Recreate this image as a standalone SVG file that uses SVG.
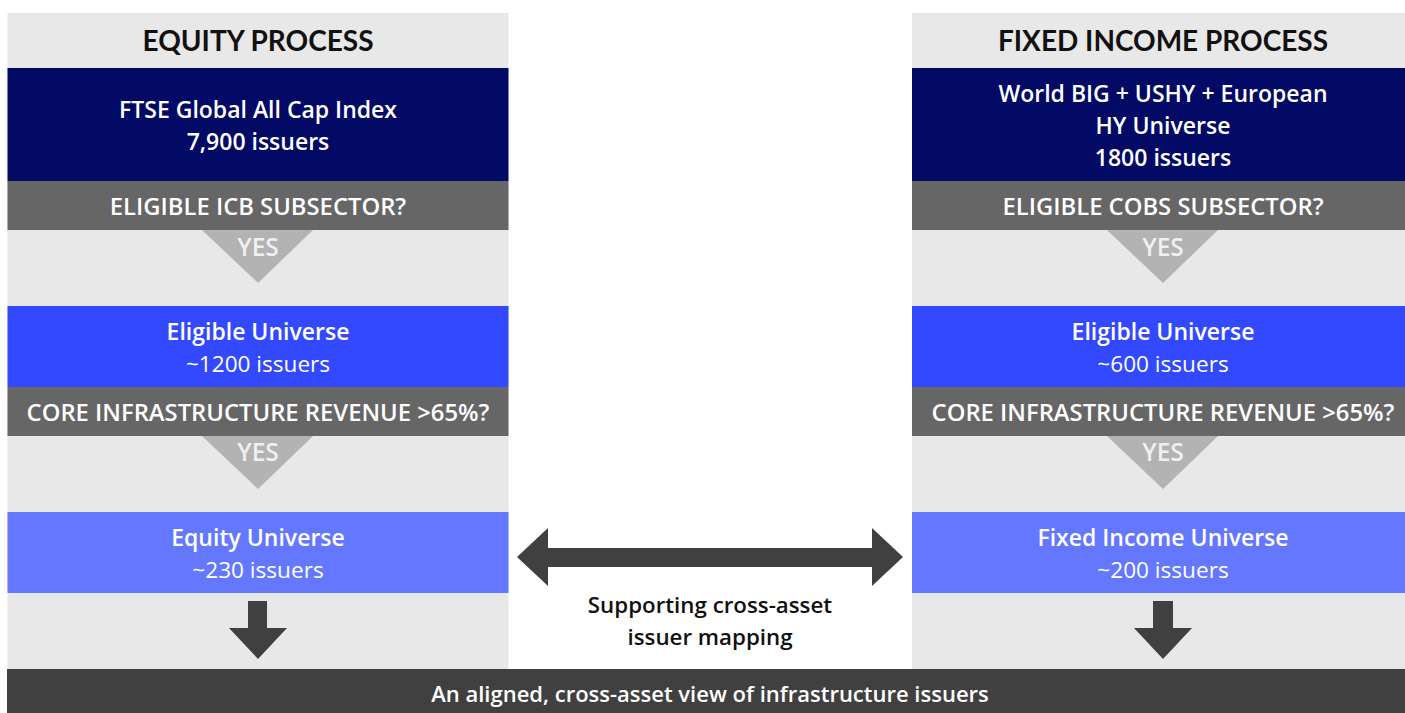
<svg xmlns="http://www.w3.org/2000/svg" width="1405" height="713" viewBox="0 0 1405 713">
<style>
.panel{fill:#e8e8e8}
.navy{fill:#020a66}
.blue{fill:#3349ff}
.lblue{fill:#6477ff}
.band{fill:#666666}
.title{font-family:Lato,"Liberation Sans",sans-serif;font-weight:700;font-size:28px;fill:#111;text-anchor:middle}
.t{font-family:"Open Sans","Liberation Sans",sans-serif;font-weight:600;font-size:23px;fill:#fff;text-anchor:middle}
.r{font-family:"Open Sans","Liberation Sans",sans-serif;font-weight:400;font-size:22.6px;fill:#fff;text-anchor:middle}
.q{font-family:"Open Sans","Liberation Sans",sans-serif;font-weight:600;font-size:23.8px;fill:#fff;text-anchor:middle}
.yes{font-family:"Open Sans","Liberation Sans",sans-serif;font-weight:600;font-size:24.5px;fill:#f0f0f0;text-anchor:middle}
.tri{fill:#b3b3b3}
.arr{fill:#404040}
.cap{font-family:"Open Sans","Liberation Sans",sans-serif;font-weight:600;font-size:22.3px;fill:#111;text-anchor:middle}
.foot{font-family:"Open Sans","Liberation Sans",sans-serif;font-weight:600;font-size:22px;fill:#fff;text-anchor:middle}
</style>
<rect width="1405" height="713" fill="#fff"/>
<g id="equity-panel">
<rect class="panel" x="7.5" y="13" width="501" height="656"/>
<text class="title" x="258" y="51">EQUITY PROCESS</text>
</g>
<g id="fi-panel">
<rect class="panel" x="912" y="13" width="502" height="656"/>
<text class="title" x="1163" y="51">FIXED INCOME PROCESS</text>
</g>
<g id="eq-ftse">
<rect class="navy" x="7.5" y="68" width="501" height="113"/>
<text class="t" x="258" y="118">FTSE Global All Cap Index</text>
<text class="t" x="258" y="150">7,900 issuers</text>
</g>
<g id="eq-icb">
<rect class="band" x="7.5" y="181" width="501" height="49"/>
<text class="q" x="258" y="215">ELIGIBLE ICB SUBSECTOR?</text>
</g>
<g id="eq-eligible">
<rect class="blue" x="7.5" y="306" width="501" height="81"/>
<text class="t" x="258" y="340">Eligible Universe</text>
<text class="r" x="258" y="372">~1200 issuers</text>
</g>
<g id="eq-core">
<rect class="band" x="7.5" y="387" width="501" height="49"/>
<text class="q" x="258" y="421">CORE INFRASTRUCTURE REVENUE &gt;65%?</text>
</g>
<g id="eq-universe">
<rect class="lblue" x="7.5" y="512" width="501" height="81"/>
<text class="t" x="258" y="546">Equity Universe</text>
<text class="r" x="258" y="578">~230 issuers</text>
</g>
<g id="fi-world">
<rect class="navy" x="912" y="68" width="502" height="113"/>
<text class="t" x="1163" y="102">World BIG + USHY + European</text>
<text class="t" x="1163" y="134">HY Universe</text>
<text class="t" x="1163" y="166">1800 issuers</text>
</g>
<g id="fi-cobs">
<rect class="band" x="912" y="181" width="502" height="49"/>
<text class="q" x="1163" y="215">ELIGIBLE COBS SUBSECTOR?</text>
</g>
<g id="fi-eligible">
<rect class="blue" x="912" y="306" width="502" height="81"/>
<text class="t" x="1163" y="340">Eligible Universe</text>
<text class="r" x="1163" y="372">~600 issuers</text>
</g>
<g id="fi-core">
<rect class="band" x="912" y="387" width="502" height="49"/>
<text class="q" x="1163" y="421">CORE INFRASTRUCTURE REVENUE &gt;65%?</text>
</g>
<g id="fi-universe">
<rect class="lblue" x="912" y="512" width="502" height="81"/>
<text class="t" x="1163" y="546">Fixed Income Universe</text>
<text class="r" x="1163" y="578">~200 issuers</text>
</g>
<g id="result">
<rect fill="#404040" x="7" y="669" width="1398" height="44"/>
<text class="foot" x="710" y="702">An aligned, cross-asset view of infrastructure issuers</text>
</g>
<g id="connectors">
<polygon class="tri" points="202,230 313,230 258,283"/>
<text class="yes" x="258" y="256">YES</text>
<polygon class="tri" points="202,436 313,436 258,489"/>
<text class="yes" x="258" y="461">YES</text>
<polygon class="tri" points="1107,230 1218,230 1163,283"/>
<text class="yes" x="1163" y="256">YES</text>
<polygon class="tri" points="1107,436 1218,436 1163,489"/>
<text class="yes" x="1163" y="461">YES</text>
<polygon class="arr" points="248,601 267,601 267,628 287,628 258,659 229,628 248,628"/>
<polygon class="arr" points="1153,601 1173,601 1173,628 1192,628 1163,659 1134,628 1153,628"/>
<polygon class="arr" points="517,557 548,528 548,548 872,548 872,528 903,557 872,586 872,567 548,567 548,586"/>
<text class="cap" x="710" y="613">Supporting cross-asset</text>
<text class="cap" x="710" y="645">issuer mapping</text>
</g>
</svg>
